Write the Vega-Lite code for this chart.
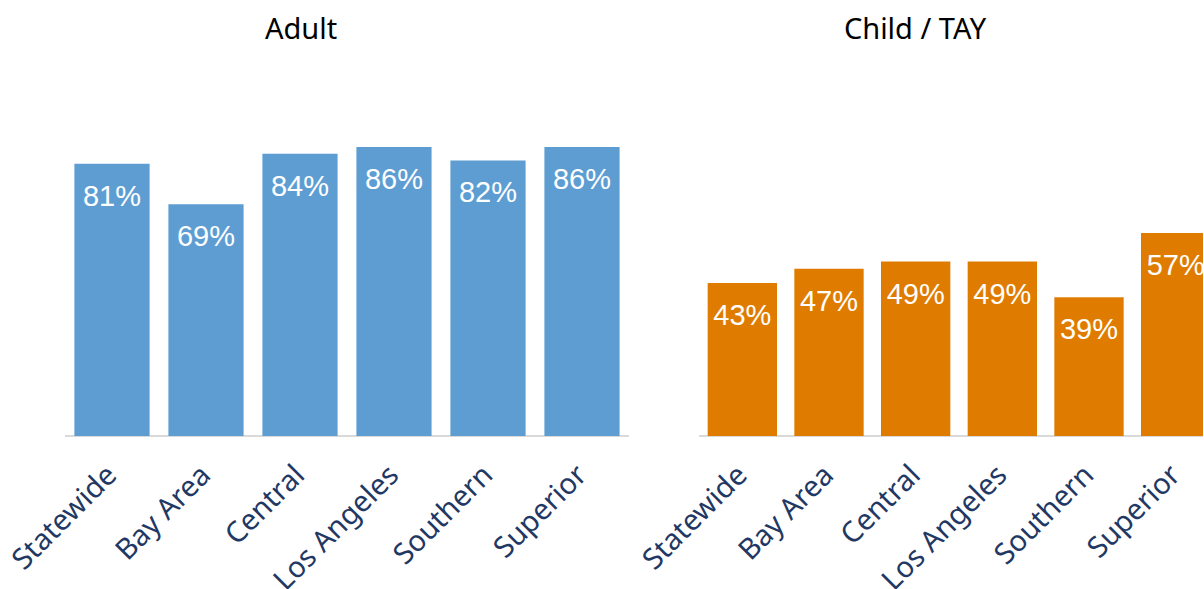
{
  "$schema": "https://vega.github.io/schema/vega-lite/v6.json",
  "padding": {"left": 7, "top": 16, "right": 0, "bottom": 0},
  "background": "white",
  "bounds": "flush",
  "spacing": 70,
  "config": {
    "view": {"stroke": null},
    "title": {"font": "Noto Sans", "fontSize": 29, "fontWeight": "normal", "color": "#000000", "offset": 55},
    "axisX": {
      "title": null, "labelAngle": -45, "labelAlign": "right", "labelBaseline": "middle",
      "labelFont": "Noto Sans", "labelFontSize": 29, "labelColor": "#1F3864",
      "labelPadding": 34, "ticks": false, "domain": false, "labelOverlap": false,
      "labelBound": false, "labelLimit": 0, "labelFlush": false
    }
  },
  "datasets": {
    "d": [
      {"group": "Adult", "region": "Statewide", "value": 0.81},
      {"group": "Adult", "region": "Bay Area", "value": 0.69},
      {"group": "Adult", "region": "Central", "value": 0.84},
      {"group": "Adult", "region": "Los Angeles", "value": 0.86},
      {"group": "Adult", "region": "Southern", "value": 0.82},
      {"group": "Adult", "region": "Superior", "value": 0.86},
      {"group": "Child / TAY", "region": "Statewide", "value": 0.43},
      {"group": "Child / TAY", "region": "Bay Area", "value": 0.47},
      {"group": "Child / TAY", "region": "Central", "value": 0.49},
      {"group": "Child / TAY", "region": "Los Angeles", "value": 0.49},
      {"group": "Child / TAY", "region": "Southern", "value": 0.39},
      {"group": "Child / TAY", "region": "Superior", "value": 0.57}
    ],
    "base": [{"v": 0}]
  },
  "hconcat": [
    {
      "width": 564, "height": 336,
      "title": {"text": "Adult", "dx": -46},
      "layer": [
        {
          "data": {"name": "base"},
          "mark": {"type": "rule", "color": "#D9D9D9", "strokeWidth": 2},
          "encoding": {"y": {"field": "v", "type": "quantitative", "scale": {"domain": [0, 1], "nice": false}, "axis": null}}
        },
        {
          "data": {"name": "d"},
          "transform": [{"filter": "datum.group === 'Adult'"}],
          "mark": {"type": "bar", "color": "#5E9DD2"},
          "encoding": {
            "x": {"field": "region", "type": "nominal", "sort": null, "scale": {"paddingInner": 0.2, "paddingOuter": 0.1}},
            "y": {"field": "value", "type": "quantitative"}
          }
        },
        {
          "data": {"name": "d"},
          "transform": [{"filter": "datum.group === 'Adult'"}],
          "mark": {"type": "text", "color": "white", "baseline": "alphabetic", "dy": 42, "font": "Liberation Sans", "fontSize": 29},
          "encoding": {
            "x": {"field": "region", "type": "nominal", "sort": null},
            "y": {"field": "value", "type": "quantitative"},
            "text": {"field": "value", "type": "quantitative", "format": ".0%"}
          }
        }
      ]
    },
    {
      "width": 504, "height": 336,
      "title": {"text": "Child / TAY", "dx": -36},
      "layer": [
        {
          "data": {"name": "base"},
          "mark": {"type": "rule", "color": "#D9D9D9", "strokeWidth": 2},
          "encoding": {"y": {"field": "v", "type": "quantitative", "scale": {"domain": [0, 0.9438], "nice": false}, "axis": null}}
        },
        {
          "data": {"name": "d"},
          "transform": [{"filter": "datum.group === 'Child / TAY'"}],
          "mark": {"type": "bar", "color": "#DF7C00", "clip": true},
          "encoding": {
            "x": {"field": "region", "type": "nominal", "sort": null, "scale": {"paddingInner": 0.2, "paddingOuter": 0.1, "range": [0, 520]}},
            "y": {"field": "value", "type": "quantitative"}
          }
        },
        {
          "data": {"name": "d"},
          "transform": [{"filter": "datum.group === 'Child / TAY'"}],
          "mark": {"type": "text", "color": "white", "baseline": "alphabetic", "dy": 42, "font": "Liberation Sans", "fontSize": 29, "clip": true},
          "encoding": {
            "x": {"field": "region", "type": "nominal", "sort": null},
            "y": {"field": "value", "type": "quantitative"},
            "text": {"field": "value", "type": "quantitative", "format": ".0%"}
          }
        }
      ]
    }
  ]
}
